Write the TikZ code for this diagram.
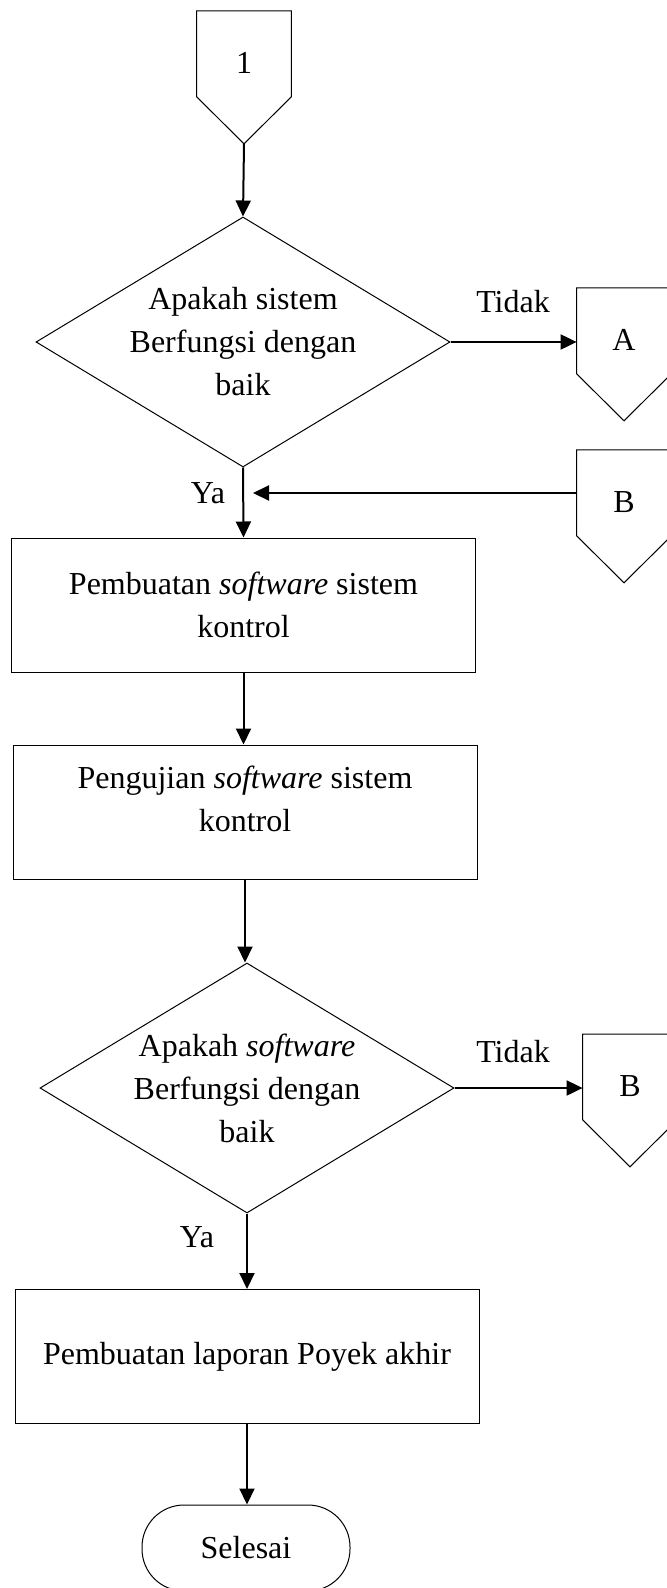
\documentclass[tikz,border=0pt]{standalone}
\usepackage{fontspec}
\setmainfont{Liberation Serif}
\usetikzlibrary{arrows.meta,shapes.geometric}
\tikzset{every picture/.style={x=0.5pt,y=-0.5pt}}
\tikzset{every node/.style={font=\fontsize{16}{21.5}\selectfont}}
\tikzset{proc/.style={rectangle,draw,line width=0.5pt,minimum width=232pt,minimum height=67pt,inner sep=0pt,align=center}}
\tikzset{dec/.style={diamond,draw,line width=0.5pt,minimum width=207pt,minimum height=125pt,aspect=1.66,inner sep=-3pt,align=center}}
\tikzset{offpage/.style={rectangle,minimum width=47pt,text height=31pt,text depth=11.5pt,inner sep=0pt,anchor=north}}
\tikzset{term/.style={rectangle,draw,line width=0.5pt,rounded corners=21pt,minimum width=104pt,minimum height=43pt}}
\tikzset{edge/.style={-{Triangle[length=8pt,width=7.5pt]},line width=1pt}}
\newcommand{\pagecon}[1]{\draw[line width=0.5pt] (#1.south west) -- (#1.north west) -- (#1.north east) -- (#1.south east) -- ([yshift=-23.5pt]#1.south) coordinate (#1t) -- cycle;}

\begin{document}
\begin{tikzpicture}
\useasboundingbox (0,0) rectangle (667,1588);
\clip (0,0) rectangle (667,1588);

\node [offpage] (c1) at (244,11) {1};
\node [offpage] (A) at (624,288) {A};
\node [offpage] (B1) at (624,450) {B};
\node [offpage] (B2) at (630,1034) {B};
\pagecon{c1}
\pagecon{A}
\pagecon{B1}
\pagecon{B2}

\node [dec] (d1) at (243,342) {Apakah sistem\\Berfungsi dengan\\baik};
\node [proc] (b1) at (243.5,605) {Pembuatan \textit{software} sistem\\kontrol};
\node [proc,text depth=13pt] (b2) at (245,812) {Pengujian \textit{software} sistem\\kontrol};
\node [dec] (d2) at (247,1088) {Apakah \textit{software}\\Berfungsi dengan\\baik};
\node [proc] (b3) at (247,1356.5) {Pembuatan laporan Poyek akhir};
\node [term] (e) at (246,1548) {Selesai};

\node (t1) at (513,302) {Tidak};
\node (t2) at (513,1052) {Tidak};
\node (y1) at (208,493) {Ya};
\node (y2) at (197,1237) {Ya};
\coordinate (j) at (243,493);

\draw [edge] (c1t) -- (d1.north);
\draw [edge] (d1.east) -- (d1.east -| A.west);
\draw [edge] (d1.south) -- (b1.north);
\draw [edge] (B1.west |- j) -- ([xshift=5pt]j);
\draw [edge] (b1.south) -- (b1.south |- b2.north);
\draw [edge] (b2.south) -- (b2.south |- d2.north);
\draw [edge] (d2.east) -- (d2.east -| B2.west);
\draw [edge] (d2.south) -- (d2.south |- b3.north);
\draw [edge] (b3.south) -- (b3.south |- e.north);
\end{tikzpicture}
\end{document}
